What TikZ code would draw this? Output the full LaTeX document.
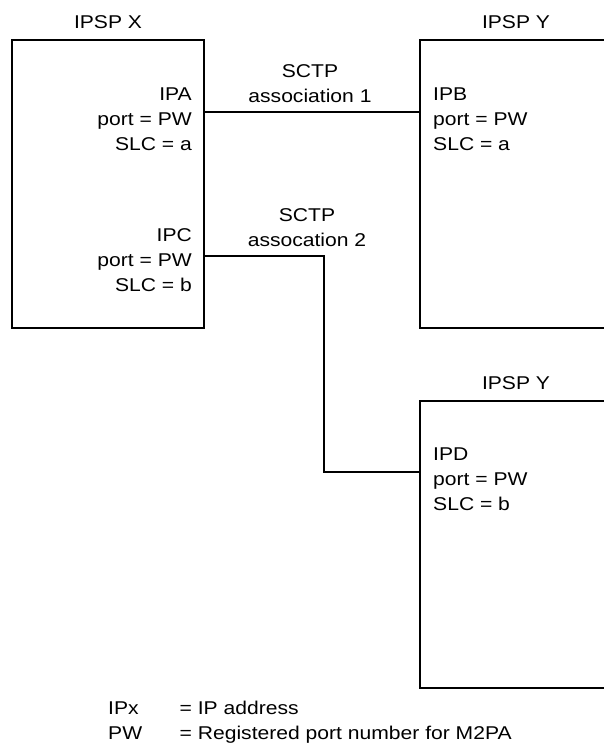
\documentclass[tikz,border=0pt]{standalone}
\usepackage{fontspec}
\setmainfont{Liberation Sans}[FakeStretch=1.14]
\usetikzlibrary{positioning}
\newcommand{\ipspfont}{\fontsize{18.5}{25}\selectfont}

\begin{document}
\begin{tikzpicture}[
    x=1pt, y=-1pt, line cap=rect,
    ipsp/.style   ={draw, line width=2pt, inner sep=0pt, outer sep=0pt},
    ttl/.style    ={font=\ipspfont, anchor=base, inner sep=0pt},
    addr/.style   ={font=\ipspfont, inner sep=0pt},
    link/.style   ={line width=1.8pt}
]
\useasboundingbox[fill=white] (0,0) rectangle (603,746);

% boxes
\node[ipsp, minimum width=192pt, minimum height=288pt] (sx)  at (108,184) {};
\node[ipsp, minimum width=220pt, minimum height=288pt] (sy1) at (530,184) {};
\node[ipsp, minimum width=220pt, minimum height=287pt] (sy2) at (530,544.5) {};

\node[ttl] (tx)  at (108,28.5)  {IPSP X};
\node[ttl] (ty1) at (516,28.5)  {IPSP Y};
\node[ttl] (ty2) at (516,389.5) {IPSP Y};

% addresses
\node[addr, align=right, anchor=north east] (ipa) at (192,88)  {IPA\\port = PW\\SLC = a};
\node[addr, align=right, anchor=north east] (ipc) at (192,228.5) {IPC\\port = PW\\SLC = b};
\node[addr, align=left,  anchor=north west] (ipb) at (433,88)  {IPB\\port = PW\\SLC = a};
\node[addr, align=left,  anchor=north west] (ipd) at (433,447.3) {IPD\\port = PW\\SLC = b};

% associations
\node[addr, align=center, anchor=north] (as1) at (310,64.5) {SCTP\\association 1};
\node[addr, align=center, anchor=north] (as2) at (307,208) {SCTP\\assocation 2};

\coordinate (a1) at (310,112);
\coordinate (b1) at (324,256);
\coordinate (b2) at (324,472);
\draw[link] (sx.east |- a1) -- (sy1.west |- a1);
\draw[link] (sx.east |- b1) -- (b1) -- (b2) -- (sy2.west |- b2);

% legend
\node[ttl, anchor=base west] (lk1) at (108,714.5) {IPx};
\node[ttl, anchor=base west] (lv1) at (179.5,714.5) {= IP address};
\node[ttl, anchor=base west] (lk2) at (108,739) {PW};
\node[ttl, anchor=base west] (lv2) at (179.5,739) {= Registered port number for M2PA};
\end{tikzpicture}
\end{document}
